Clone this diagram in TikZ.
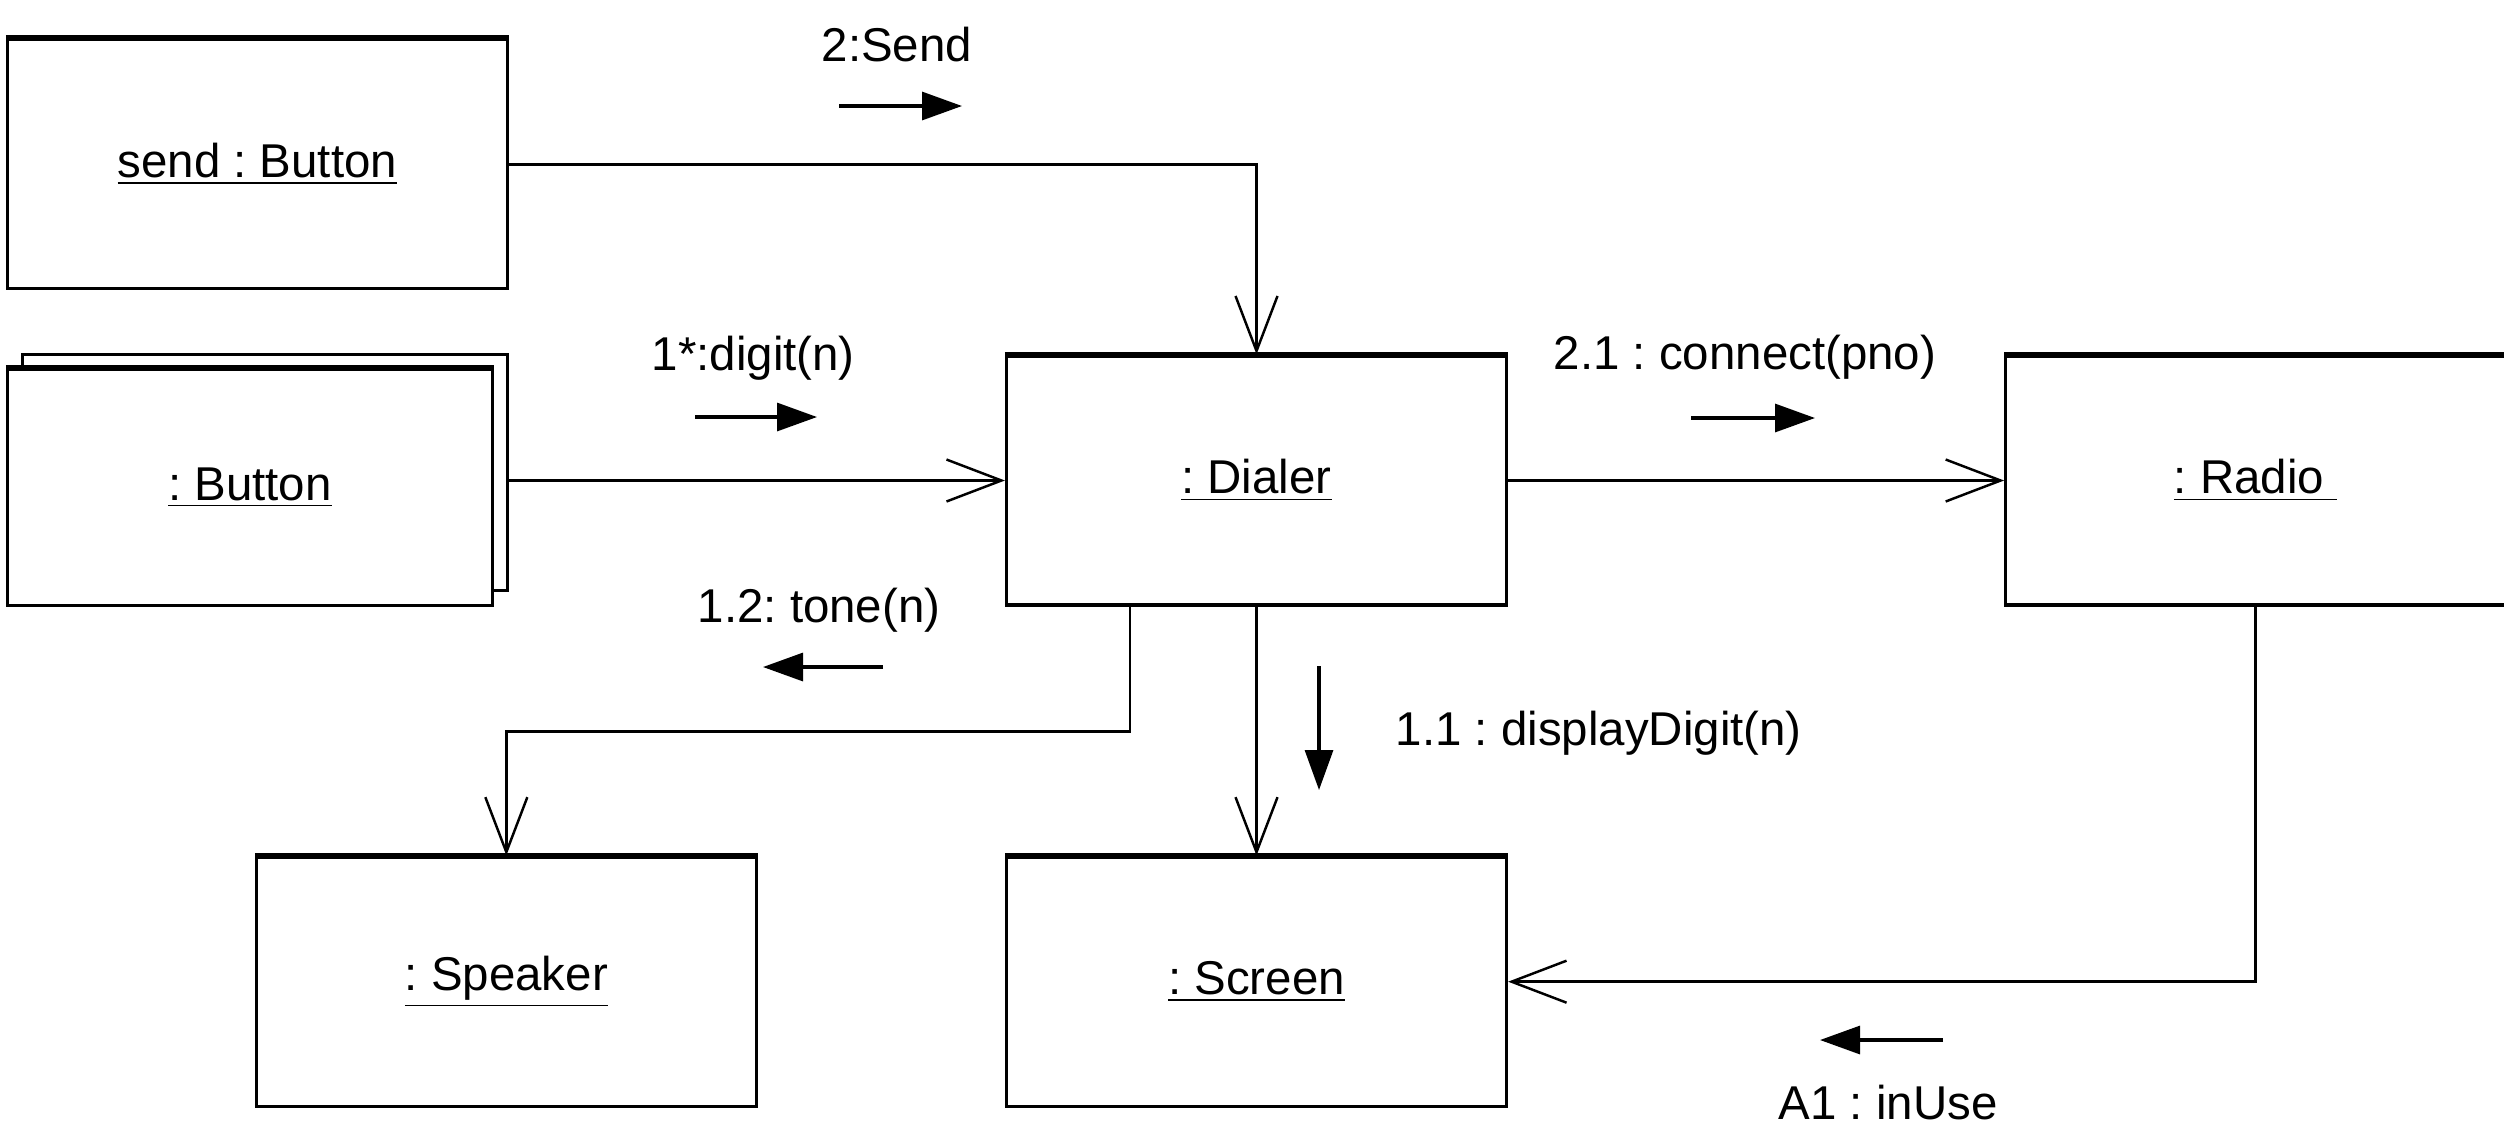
\documentclass[tikz,border=0pt]{standalone}
\usepackage{fontspec}
\setmainfont{Liberation Sans}
\usetikzlibrary{positioning,arrows.meta}
\frenchspacing

\begin{document}
\begin{tikzpicture}[node distance=2.49cm and 4.96cm, font=\fontsize{13.5}{16}\selectfont,
		obj/.style={draw, line width=0.9pt, minimum width=5cm, minimum height=2.49cm, inner sep=0pt},
		multi/.style={draw, line width=0.9pt, fill=white, minimum width=4.85cm, minimum height=2.36cm, inner sep=0pt},
		conn/.style={line width=0.7pt, -{Straight Barb[length=5.5mm,width=4.2mm]}},
		msg/.style={line width=0.9pt, -{Triangle[length=4mm,width=2.8mm]}},
		lbl/.style={anchor=base west, inner sep=0pt}]
		\useasboundingbox (0,0) rectangle (25.04,-11.31);
		\node[obj] (dialer) at (12.565,-4.805) {\underline{: Dialer}};
		\node[obj, right=of dialer] (radio) {\underline{: Radio\ }};
		\node[obj, below=of dialer] (screen) {\underline{: Screen}};
		\node[obj, left=2.47cm of screen] (speaker) {\underline{: Speaker}};
		\node[obj, above left=0.64cm and 4.96cm of dialer] (sendbtn) {\underline{send : Button}};
		\node[multi, left=of dialer, yshift=0.08cm] (buttonback) {};
		\node[multi] (button) at ([shift={(-0.15,-0.15)}]buttonback.center) {\underline{: Button}};
		\foreach \n in {dialer,radio,screen,speaker,sendbtn,button}
			\draw[line width=1.6pt] (\n.north west) -- (\n.north east);

		\draw[conn] (sendbtn.east) -| (dialer.north);
		\draw[conn] (buttonback.east |- dialer.west) -- (dialer.west);
		\draw[conn] (dialer.east) -- (radio.west);
		\draw[conn] (dialer.south) -- (screen.north);
		\draw[conn] ([xshift=1.25cm]dialer.south west) |- ([yshift=1.24cm]speaker.north) -- (speaker.north);
		\draw[conn] (radio.south) |- (screen.east);

		\node[lbl] (m2) at (8.21,-0.61) {2:Send};
		\node[lbl] (m1) at (6.51,-3.70) {1*:digit(n)};
		\node[lbl] (m12) at (6.97,-6.22) {1.2: tone(n)};
		\node[lbl] (m21) at (15.53,-3.69) {2.1 : connect(pno)};
		\node[lbl] (m11) at (13.95,-7.45) {1.1 : displayDigit(n)};
		\node[lbl] (ma1) at (17.78,-11.19) {A1 : inUse};

		\coordinate (m2-a) at (8.39,-1.06);
		\coordinate (m2-b) at (9.62,-1.06);
		\coordinate (m1-a) at (6.95,-4.17);
		\coordinate (m1-b) at (8.17,-4.17);
		\coordinate (m12-a) at (8.83,-6.67);
		\coordinate (m12-b) at (7.63,-6.67);
		\coordinate (m21-a) at (16.91,-4.18);
		\coordinate (m21-b) at (18.15,-4.18);
		\coordinate (m11-a) at (13.19,-6.66);
		\coordinate (m11-b) at (13.19,-7.90);
		\coordinate (ma1-a) at (19.43,-10.40);
		\coordinate (ma1-b) at (18.20,-10.40);
		\foreach \m in {m2,m1,m12,m21,m11,ma1}
			\draw[msg] (\m-a) -- (\m-b);
	\end{tikzpicture}
\end{document}
